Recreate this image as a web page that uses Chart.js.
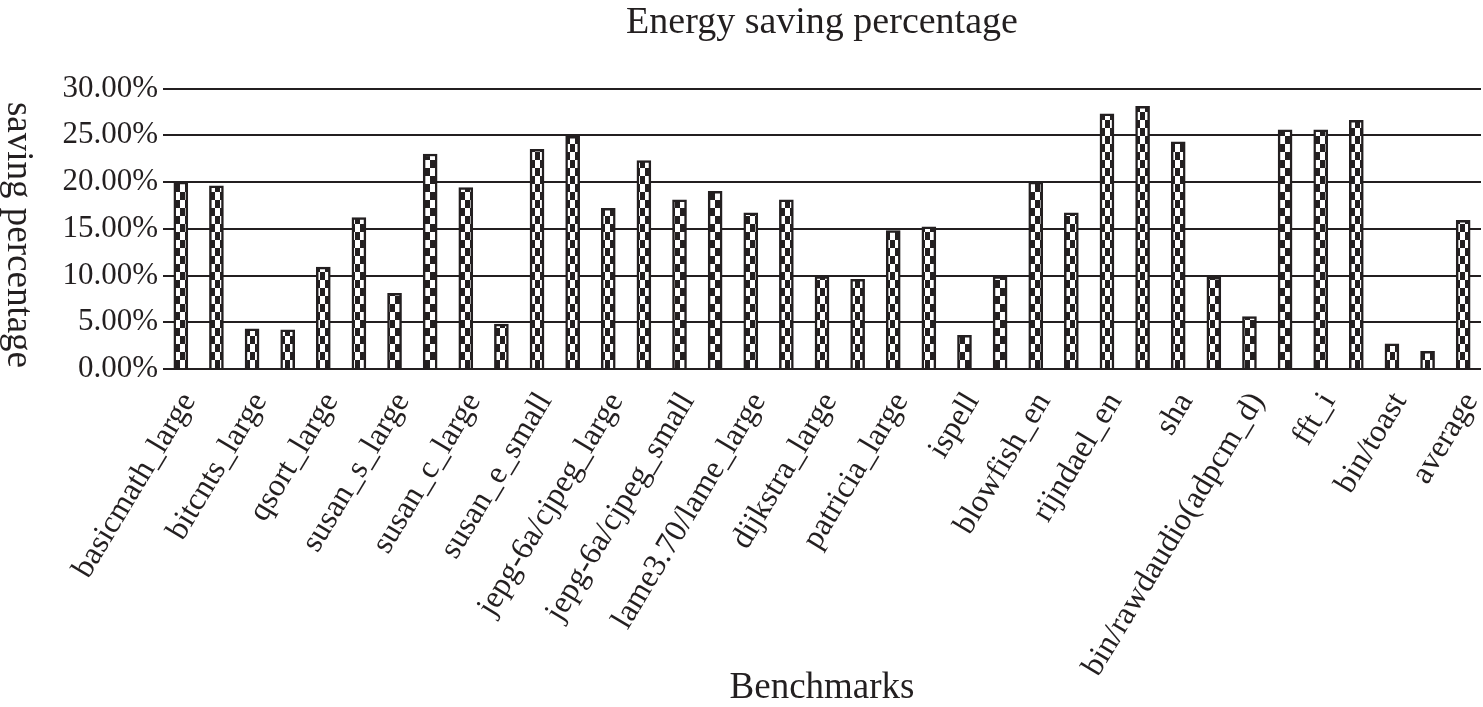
<!DOCTYPE html>
<html>
<head>
<meta charset="utf-8">
<title>Energy saving percentage</title>
<script src="https://cdn.jsdelivr.net/npm/chart.js@4.4.1/dist/chart.umd.min.js"></script>
<style>
  html, body { margin: 0; padding: 0; background: #fff; }
  #wrap { width: 1483px; height: 707px; position: relative; }
</style>
</head>
<body>
<div id="wrap"><canvas id="savingChart"></canvas></div>
<script>
// Benchmarks (only every second name is printed on the axis, the others are unlabeled)
const categories = [
  'basicmath_large', '', 'bitcnts_large', '', 'qsort_large', '',
  'susan_s_large', '', 'susan_c_large', '', 'susan_e_small', '',
  'jepg-6a/cjpeg_large', '', 'jepg-6a/cjpeg_small', '', 'lame3.70/lame_large', '',
  'dijkstra_large', '', 'patricia_large', '', 'ispell', '',
  'blowfish_en', '', 'rijndael_en', '', 'sha', '',
  'bin/rawdaudio(adpcm_d)', '', 'fft_i', '', 'bin/toast', '', 'average'
];

// Energy saving (%) per benchmark
const savingValues = [
  20.0, 19.6, 4.3, 4.2, 10.9, 16.2,
  8.1, 23.0, 19.4, 4.8, 23.5, 24.9,
  17.2, 22.3, 18.1, 19.0, 16.7, 18.1,
  9.9, 9.6, 14.8, 15.2, 3.6, 9.9,
  20.0, 16.7, 27.3, 28.1, 24.3, 9.8,
  5.6, 25.6, 25.6, 26.6, 2.7, 1.9, 15.9
];

const yTicks = [0, 5, 10, 15, 20, 25, 30];

const ink = '#231f20';
const serif = "'Liberation Serif', 'Times New Roman', serif";

// Checkered fill like the printed figure
function makeChecker() {
  const c = document.createElement('canvas');
  c.width = 10;
  c.height = 16;
  const g = c.getContext('2d');
  g.fillStyle = '#fff';
  g.fillRect(0, 0, 10, 16);
  g.fillStyle = ink;
  g.fillRect(0, 0, 5, 8);
  g.fillRect(5, 8, 5, 8);
  return g.createPattern(c, 'repeat');
}

// y title reads top-to-bottom in the reference, so draw it ourselves
const yTitlePlugin = {
  id: 'yTitle',
  afterDraw(chart) {
    const ctx = chart.ctx;
    ctx.save();
    ctx.translate(18, 235);
    ctx.rotate(Math.PI / 2);
    ctx.font = '37px ' + serif;
    ctx.fillStyle = ink;
    ctx.textAlign = 'center';
    ctx.textBaseline = 'middle';
    ctx.fillText('saving percentage', 0, 0);
    ctx.restore();
  }
};

const canvas = document.getElementById('savingChart');
const ctx = canvas.getContext('2d');

new Chart(ctx, {
  type: 'bar',
  data: {
    labels: categories,
    datasets: [{
      label: 'saving percentage',
      data: savingValues,
      backgroundColor: makeChecker(),
      borderColor: ink,
      borderWidth: 2.5,
      barThickness: 14
    }]
  },
  options: {
    responsive: true,
    maintainAspectRatio: false,
    animation: false,
    layout: { padding: { left: 0, right: 2, top: 0, bottom: 0 } },
    plugins: {
      legend: { display: false },
      tooltip: { enabled: false },
      title: {
        display: true,
        fullSize: false,
        text: 'Energy saving percentage',
        color: ink,
        font: { family: serif, size: 38, weight: 'normal', lineHeight: 1.2 },
        padding: { top: 0, bottom: 43 }
      }
    },
    scales: {
      x: {
        grid: { display: false },
        border: { display: false },
        ticks: {
          color: ink,
          font: { family: serif, size: 32 },
          autoSkip: false,
          minRotation: 59,
          maxRotation: 59,
          labelOffset: 8,
          padding: 9
        },
        title: {
          display: true,
          text: 'Benchmarks',
          color: ink,
          font: { family: serif, size: 37, lineHeight: 1 },
          padding: { top: 0, bottom: 0 }
        },
        afterFit(scale) {
          scale.height = 707 - 369;
          scale.paddingLeft = 0;
          scale.paddingRight = 0;
        }
      },
      y: {
        min: 0,
        max: 30,
        afterBuildTicks(scale) {
          scale.ticks = yTicks.map(v => ({ value: v }));
        },
        grid: {
          color: ink,
          lineWidth: 2,
          drawTicks: false
        },
        border: { display: false },
        ticks: {
          color: ink,
          font: { family: serif, size: 31 },
          padding: 5,
          callback: v => v.toFixed(2) + '%'
        },
        afterFit(scale) { scale.width = 163; }
      }
    }
  },
  plugins: [yTitlePlugin]
});
</script>
</body>
</html>
